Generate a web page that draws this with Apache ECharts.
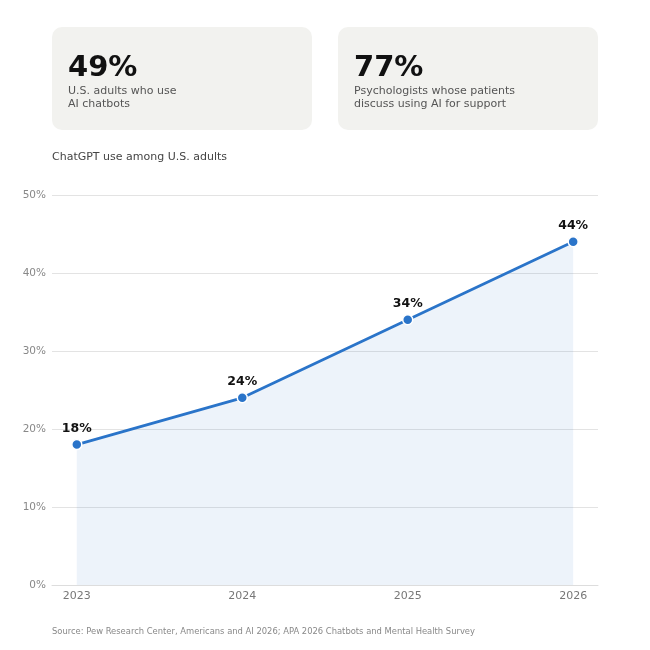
<!DOCTYPE html>
<html>
<head>
<meta charset="utf-8">
<script src="https://cdn.jsdelivr.net/npm/echarts@6/dist/echarts.min.js"></script>
<style>
  html, body { margin: 0; padding: 0; background: #fff; }
  #chart { width: 650px; height: 650px; }
</style>
</head>
<body>
<div id="chart"></div>
<script>
  // data
  const years = [2023, 2024, 2025, 2026]
  const usage = [18, 24, 34, 44]
  const yTicks = [0, 10, 20, 30, 40, 50]
  const statValues = ['49%', '77%']
  const statLines = [
    ['U.S. adults who use', 'AI chatbots'],
    ['Psychologists whose patients', 'discuss using AI for support']
  ]

  const FONT = "'DejaVu Sans'"
  const BLUE = '#2a74c9'

  const chart = echarts.init(document.getElementById('chart'))

  // stat cards at the top
  const cards = []
  const cardX = [52, 338]
  statValues.forEach((v, i) => {
    cards.push({
      type: 'rect',
      shape: { x: cardX[i], y: 27, width: 260, height: 103, r: 10 },
      style: { fill: '#f2f2ef' }
    })
    cards.push({
      type: 'text',
      x: cardX[i] + 16, y: 54,
      style: { text: v, font: 'bold 29px ' + FONT, fill: '#111' }
    })
    cards.push({
      type: 'text',
      x: cardX[i] + 16, y: 84,
      style: { text: statLines[i].join('\n'), font: '11px ' + FONT, fill: '#555', lineHeight: 13.5 }
    })
  })

  const option = {
    backgroundColor: '#fff',
    textStyle: { fontFamily: FONT },
    graphic: cards.concat([
      {
        type: 'text', x: 52, y: 152,
        style: { text: 'ChatGPT use among U.S. adults', font: '11px ' + FONT, fill: '#444' }
      },
      {
        type: 'text', x: 52, y: 628,
        style: { text: 'Source: Pew Research Center, Americans and AI 2026; APA 2026 Chatbots and Mental Health Survey', font: '8.4px ' + FONT, fill: '#888' }
      }
    ]),
    grid: { left: 52, right: 52, top: 195, bottom: 65, containLabel: false },
    xAxis: {
      type: 'value',
      min: 2022.85,
      max: 2026.15,
      axisLine: { show: true, lineStyle: { color: '#ddd' } },
      axisTick: { show: false },
      splitLine: { show: false },
      axisLabel: {
        customValues: years,
        formatter: v => String(v),
        color: '#777',
        fontFamily: FONT,
        fontSize: 11,
        margin: 6
      }
    },
    yAxis: {
      type: 'value',
      min: 0,
      max: 50,
      interval: 10,
      axisLine: { show: false },
      axisTick: { show: false },
      splitLine: { lineStyle: { color: '#e3e3e3' } },
      axisLabel: {
        formatter: v => v + '%',
        color: '#888',
        fontFamily: FONT,
        fontSize: 10.5,
        margin: 6
      }
    },
    series: [{
      type: 'line',
      data: years.map((y, i) => [y, usage[i]]),
      symbol: 'circle',
      symbolSize: 10,
      lineStyle: { color: BLUE, width: 2.8 },
      itemStyle: { color: BLUE, borderColor: '#fff', borderWidth: 1.5 },
      areaStyle: { color: 'rgba(42,116,201,0.12)' },
      label: {
        show: true,
        position: 'top',
        distance: 4,
        formatter: p => p.value[1] + '%',
        color: '#111',
        fontFamily: FONT,
        fontWeight: 'bold',
        fontSize: 12.5
      },
      animation: false
    }]
  }

  chart.setOption(option)
</script>
</body>
</html>
